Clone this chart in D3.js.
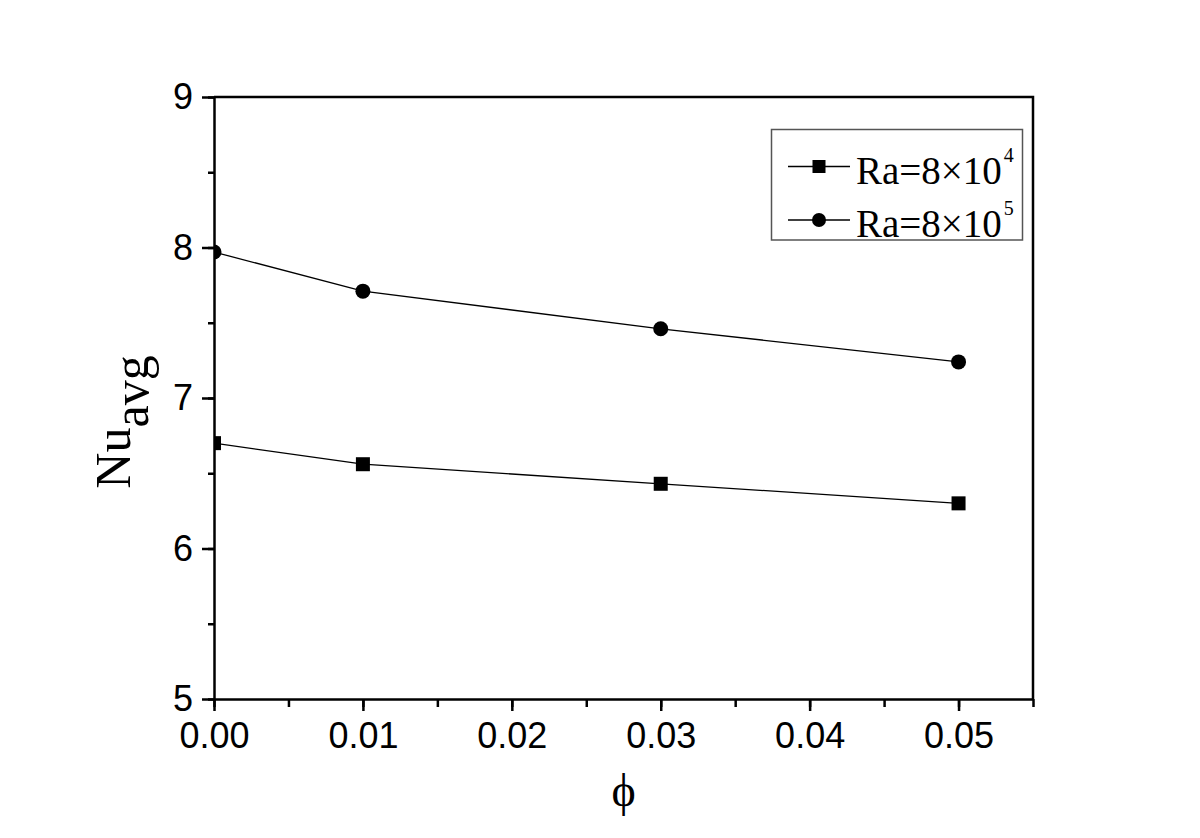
<!DOCTYPE html>
<head>
  <meta charset="utf-8">
  <style>
    body { margin: 0; background: #fff; }
    svg .domain { stroke: #000; stroke-width: 2.5px; }
    svg .tick line { stroke: #000; stroke-width: 2.5px; }
    svg .tick text { font: 36px "Liberation Sans", Arial, sans-serif; fill: #000; }
    svg .series { fill: none; stroke: #000; stroke-width: 1.3px; }
    svg .serif { font-family: "Liberation Serif", "Times New Roman", serif; fill: #000; }
  </style>
</head>

<body>
<script src="https://d3js.org/d3.v7.min.js"></script>

<script>
  // data
  var phi = [0.00, 0.01, 0.03, 0.05];
  var nuRa4 = [6.70, 6.56, 6.43, 6.30];   // Ra = 8x10^4, squares
  var nuRa5 = [7.97, 7.71, 7.46, 7.24];   // Ra = 8x10^5, circles
  var xTicks = [0, 0.01, 0.02, 0.03, 0.04, 0.05];
  var yTicks = [5, 6, 7, 8, 9];

  var W = 1200, H = 838;
  var plot = { left: 214, top: 97, right: 1033, bottom: 699 };

  var svg = d3.select("body")
    .append("svg")
      .attr("width", W)
      .attr("height", H);

  var xScale = d3.scaleLinear().domain([0, 0.055]).range([plot.left, plot.right]);
  var yScale = d3.scaleLinear().domain([5, 9]).range([plot.bottom, plot.top]);

  // minor ticks
  svg.append("g")
      .attr("transform", "translate(0," + plot.bottom + ")")
      .call(d3.axisBottom(xScale).tickValues(d3.range(0, 0.0551, 0.005)).tickSize(8).tickFormat(""))
    .select(".domain").remove();
  svg.append("g")
      .attr("transform", "translate(" + plot.left + ",0)")
      .call(d3.axisLeft(yScale).tickValues(d3.range(5, 9.01, 0.5)).tickSize(6).tickFormat(""))
    .select(".domain").remove();

  // major ticks + labels
  svg.append("g")
      .attr("transform", "translate(0," + plot.bottom + ")")
      .call(d3.axisBottom(xScale).tickValues(xTicks).tickSize(12).tickSizeOuter(0)
        .tickPadding(11).tickFormat(d3.format(".2f")));
  svg.append("g")
      .attr("transform", "translate(" + plot.left + ",0)")
      .call(d3.axisLeft(yScale).tickValues(yTicks).tickSize(12).tickSizeOuter(0)
        .tickPadding(9).tickFormat(d3.format("d")));

  // top and right frame
  svg.append("path")
      .attr("d", "M" + plot.left + "," + plot.top + "H" + plot.right + "V" + plot.bottom)
      .style("fill", "none")
      .style("stroke", "#000")
      .style("stroke-width", "2.5px");

  // clip marks to plot area
  svg.append("clipPath").attr("id", "clip")
    .append("rect")
      .attr("x", plot.left).attr("y", plot.top)
      .attr("width", plot.right - plot.left).attr("height", plot.bottom - plot.top);

  var marks = svg.append("g").attr("clip-path", "url(#clip)");

  function line(vals) {
    return d3.line()
      .x(function (d, i) { return xScale(phi[i]); })
      .y(function (d) { return yScale(d); })(vals);
  }

  marks.append("path").classed("series", true).attr("d", line(nuRa4));
  marks.append("path").classed("series", true).attr("d", line(nuRa5));

  marks.selectAll("rect.sq").data(nuRa4).enter()
    .append("rect")
      .attr("x", function (d, i) { return xScale(phi[i]) - 7; })
      .attr("y", function (d) { return yScale(d) - 7; })
      .attr("width", 14).attr("height", 14)
      .style("fill", "#000");

  marks.selectAll("circle.ci").data(nuRa5).enter()
    .append("circle")
      .attr("cx", function (d, i) { return xScale(phi[i]); })
      .attr("cy", function (d) { return yScale(d); })
      .attr("r", 7.5)
      .style("fill", "#000");

  // axis titles
  var yt = svg.append("text")
      .classed("serif", true)
      .attr("transform", "translate(130,422) rotate(-90)")
      .style("text-anchor", "middle")
      .style("font-size", "50px");
  yt.append("tspan").text("Nu");
  yt.append("tspan").attr("dy", "18px").text("avg");

  svg.append("text")
      .classed("serif", true)
      .attr("x", (plot.left + plot.right) / 2)
      .attr("y", 806)
      .style("text-anchor", "middle")
      .style("font-size", "46px")
      .text("\u03D5");

  // legend
  var lg = svg.append("g");
  lg.append("rect")
      .attr("x", 771.5).attr("y", 129.5)
      .attr("width", 251).attr("height", 110.5)
      .style("fill", "#fff")
      .style("stroke", "#555")
      .style("stroke-width", "1.5px");

  var legendRows = [
    { label: "Ra=8\u00D710", exp: "4", shape: "square", y: 166.5 },
    { label: "Ra=8\u00D710", exp: "5", shape: "circle", y: 220 }
  ];

  legendRows.forEach(function (r) {
    lg.append("line")
        .attr("x1", 788).attr("x2", 850)
        .attr("y1", r.y).attr("y2", r.y)
        .style("stroke", "#000").style("stroke-width", "1.3px");
    if (r.shape === "square") {
      lg.append("rect")
          .attr("x", 819 - 6.5).attr("y", r.y - 6.5)
          .attr("width", 13).attr("height", 13)
          .style("fill", "#000");
    } else {
      lg.append("circle")
          .attr("cx", 819).attr("cy", r.y).attr("r", 7)
          .style("fill", "#000");
    }
    var t = lg.append("text")
        .classed("serif", true)
        .attr("x", 856)
        .attr("y", r.y + 17)
        .style("font-size", "39px");
    t.append("tspan").text(r.label);
    t.append("tspan").attr("dx", "2px").attr("dy", "-22px").style("font-size", "20px").text(r.exp);
  });
</script>
</body>
</html>
